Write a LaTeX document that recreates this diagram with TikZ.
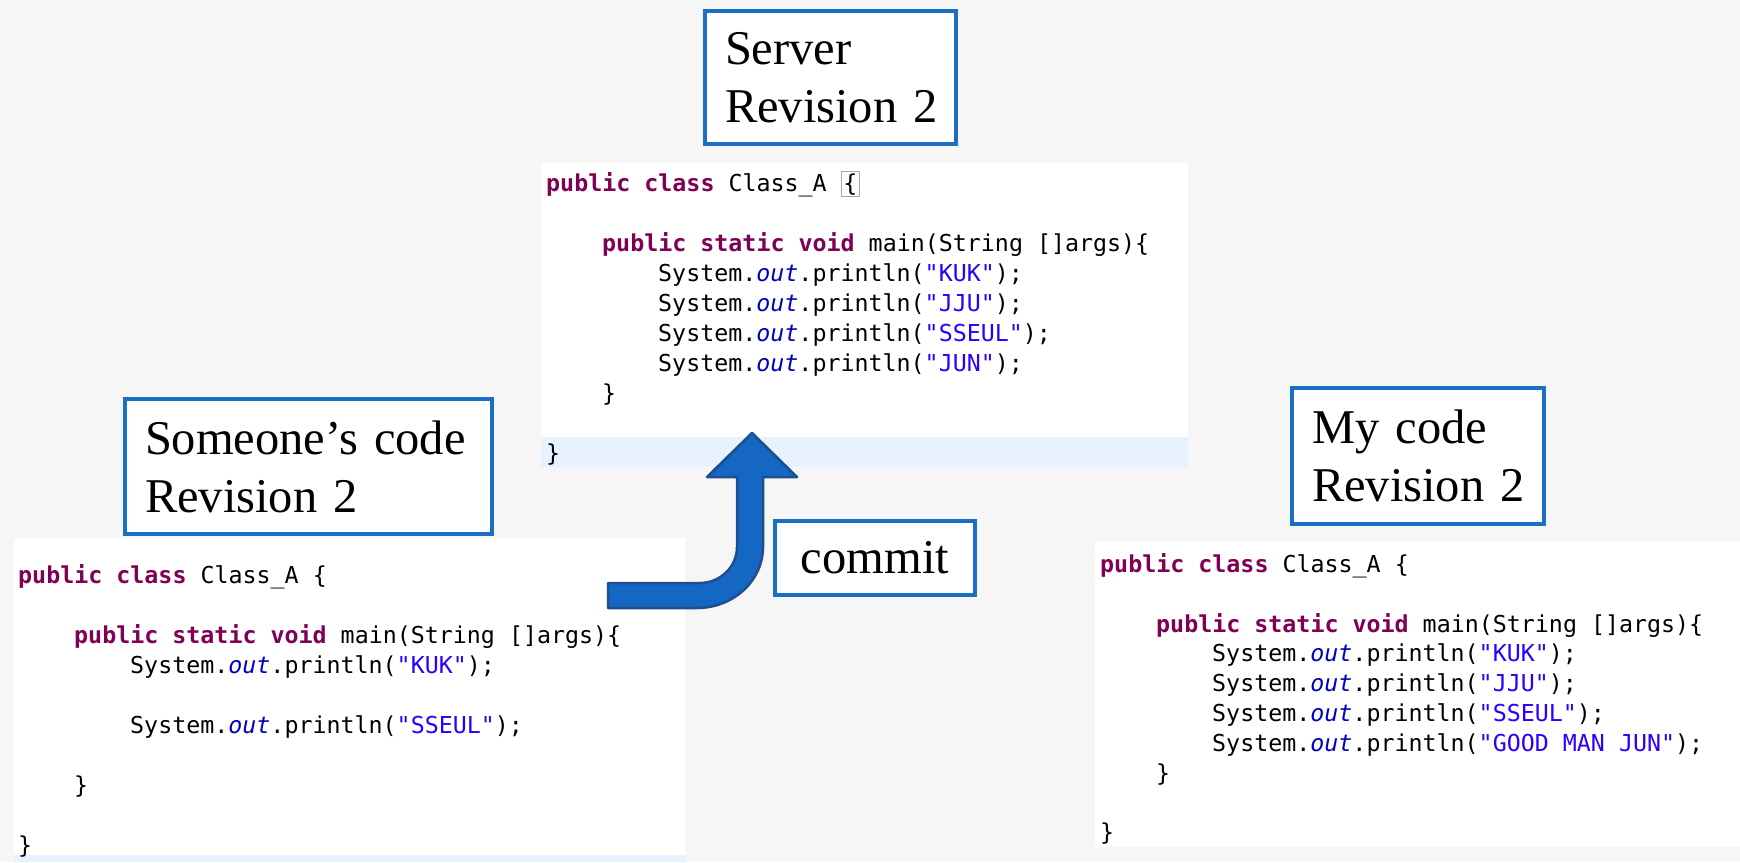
\documentclass[tikz,border=0pt]{standalone}
\usepackage{fontspec}
\setmonofont{DejaVu Sans Mono}
\newfontfamily\titlefont{Liberation Serif}
\definecolor{bgpaper}{HTML}{F6F6F6}
\definecolor{boxblue}{HTML}{1A6FC4}
\definecolor{arrowfill}{HTML}{1467C2}
\definecolor{arrowline}{HTML}{1F4E8F}
\definecolor{kwpurple}{HTML}{7F0055}
\definecolor{strblue}{HTML}{2A00FF}
\definecolor{fldblue}{HTML}{0000C0}
\definecolor{linehl}{HTML}{E8F2FE}
\definecolor{bracegray}{HTML}{A8A8A8}
\setlength{\fboxsep}{1.5pt}
\setlength{\fboxrule}{1pt}
\newcommand{\kw}[1]{\textcolor{kwpurple}{\bfseries #1}}
\newcommand{\jstr}[1]{\textcolor{strblue}{#1}}
\newcommand{\fld}[1]{\textcolor{fldblue}{\itshape #1}}

\begin{document}
\begin{tikzpicture}
	[x=1pt,y=-1pt,
	 titlebox/.style={draw=boxblue,line width=4pt,fill=white,anchor=north west,align=left,inner xsep=20pt,inner ysep=8pt,font=\titlefont\fontsize{48.5}{58}\selectfont},
	 codeline/.style={anchor=base west,inner sep=0pt,font=\ttfamily\fontsize{23.3}{30}\selectfont}]
	\fill[bgpaper] (0,0) rectangle (1740,862);
	% editor panels
	\fill[white] (541,163) rectangle (1188,467);
	\fill[linehl] (541,437) rectangle (1188,467);
	\fill[white] (14,538) rectangle (685,862);
	\fill[linehl] (14,855) rectangle (685,862);
	\fill[white] (1095,541) rectangle (1740,847);
	% server code
	\node[codeline,name=s0] at (546,191) {\kw{public} \kw{class} Class\_A \fcolorbox{bracegray}{white}{\{}};
	\node[codeline,name=s2] at (602,251) {\kw{public} \kw{static} \kw{void} main(String []args)\{};
	\node[codeline,name=s3] at (658,281) {System.\fld{out}.println(\jstr{"KUK"});};
	\node[codeline,name=s4] at (658,311) {System.\fld{out}.println(\jstr{"JJU"});};
	\node[codeline,name=s5] at (658,341) {System.\fld{out}.println(\jstr{"SSEUL"});};
	\node[codeline,name=s6] at (658,371) {System.\fld{out}.println(\jstr{"JUN"});};
	\node[codeline,name=s7] at (602,401) {\}};
	\node[codeline,name=s9] at (546,461) {\}};
	% someone's code
	\node[codeline,name=o0] at (18,583) {\kw{public} \kw{class} Class\_A \{};
	\node[codeline,name=o2] at (74,643) {\kw{public} \kw{static} \kw{void} main(String []args)\{};
	\node[codeline,name=o3] at (130,673) {System.\fld{out}.println(\jstr{"KUK"});};
	\node[codeline,name=o5] at (130,733) {System.\fld{out}.println(\jstr{"SSEUL"});};
	\node[codeline,name=o7] at (74,793) {\}};
	\node[codeline,name=o9] at (18,853) {\}};
	% my code
	\node[codeline,name=m0] at (1100,572) {\kw{public} \kw{class} Class\_A \{};
	\node[codeline,name=m2] at (1156,632) {\kw{public} \kw{static} \kw{void} main(String []args)\{};
	\node[codeline,name=m3] at (1212,661) {System.\fld{out}.println(\jstr{"KUK"});};
	\node[codeline,name=m4] at (1212,691) {System.\fld{out}.println(\jstr{"JJU"});};
	\node[codeline,name=m5] at (1212,721) {System.\fld{out}.println(\jstr{"SSEUL"});};
	\node[codeline,name=m6] at (1212,751) {System.\fld{out}.println(\jstr{"GOOD MAN JUN"});};
	\node[codeline,name=m7] at (1156,781) {\}};
	\node[codeline,name=m9] at (1100,840) {\}};
	% commit arrow
	\draw[fill=arrowfill,draw=arrowline,line width=2.5pt,line join=round]
		(608,583) -- (700,583) .. controls (720,583) and (737,567) .. (737,547)
		-- (737,477) -- (707,477) -- (752,433) -- (797,477) -- (763,477) -- (763,547)
		.. controls (763,581) and (733,608) .. (697,608) -- (608,608) -- cycle;
	% labels
	\node[titlebox,name=server,minimum width=251pt,minimum height=133pt,text width=211pt] at (703,9) {Server\\Revision~2};
	\node[titlebox,name=someone,minimum width=367pt,minimum height=135pt,text width=327pt] at (123,397) {Someone’s~code\\Revision~2};
	\node[titlebox,name=mine,minimum width=252pt,minimum height=136pt,text width=212pt] at (1290,386) {My~code\\Revision~2};
	\node[titlebox,name=commit,align=center,inner xsep=0pt,minimum width=200pt,minimum height=74pt] at (773,519) {commit};
\end{tikzpicture}
\end{document}
